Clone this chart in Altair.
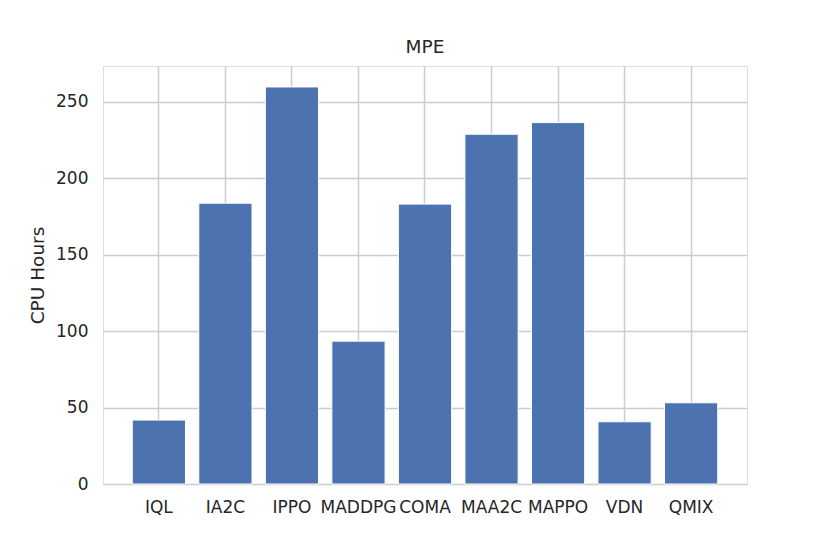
import altair as alt
import pandas as pd

algorithms = ["IQL", "IA2C", "IPPO", "MADDPG", "COMA", "MAA2C", "MAPPO", "VDN", "QMIX"]
cpu_hours = [41.8, 183.6, 259.6, 93.4, 183.0, 228.7, 236.3, 40.7, 53.1]
y_ticks = [0, 50, 100, 150, 200, 250]

df = pd.DataFrame({"algorithm": algorithms, "hours": cpu_hours})

FONT = "DejaVu Sans"
TXT = "#262626"
GRID = "#cccccc"

chart = (
    alt.Chart(df)
    .mark_bar(color="#4C72B0", stroke="white", strokeWidth=1)
    .encode(
        x=alt.X(
            "algorithm:N",
            sort=algorithms,
            title=None,
            scale=alt.Scale(paddingInner=0.2, paddingOuter=0.44),
            axis=alt.Axis(
                labelAngle=0,
                ticks=False,
                domain=False,
                grid=True,
                bandPosition=0.5,
                gridColor=GRID,
                gridWidth=1.5,
                labelFont=FONT,
                labelFontSize=17,
                labelColor=TXT,
                labelPadding=15,
            ),
        ),
        y=alt.Y(
            "hours:Q",
            title="CPU Hours",
            scale=alt.Scale(domain=[0, 273.3], nice=False, zero=True),
            axis=alt.Axis(
                values=y_ticks,
                ticks=False,
                domain=False,
                grid=True,
                gridColor=GRID,
                gridWidth=1.5,
                labelFont=FONT,
                labelFontSize=17,
                labelColor=TXT,
                labelPadding=15,
                titleFont=FONT,
                titleFontSize=18.5,
                titleFontWeight="normal",
                titleColor=TXT,
                titleX=-65.5,
                titleY=209,
                titleBaseline="middle",
                titleAngle=270,
            ),
        ),
    )
    .properties(
        width=644,
        height=418,
        title=alt.TitleParams(
            "MPE", font=FONT, fontSize=18.5, fontWeight="normal", color=TXT,
            anchor="middle", offset=10,
        ),
        autosize=alt.AutoSizeParams(type="none"),
        padding={"left": 95, "top": 58, "right": 70, "bottom": 55},
    )
    .configure_view(stroke=GRID, strokeWidth=1.5)
    .configure(background="white")
)

chart.save("out.html", embed_options={"renderer": "svg", "actions": False})
